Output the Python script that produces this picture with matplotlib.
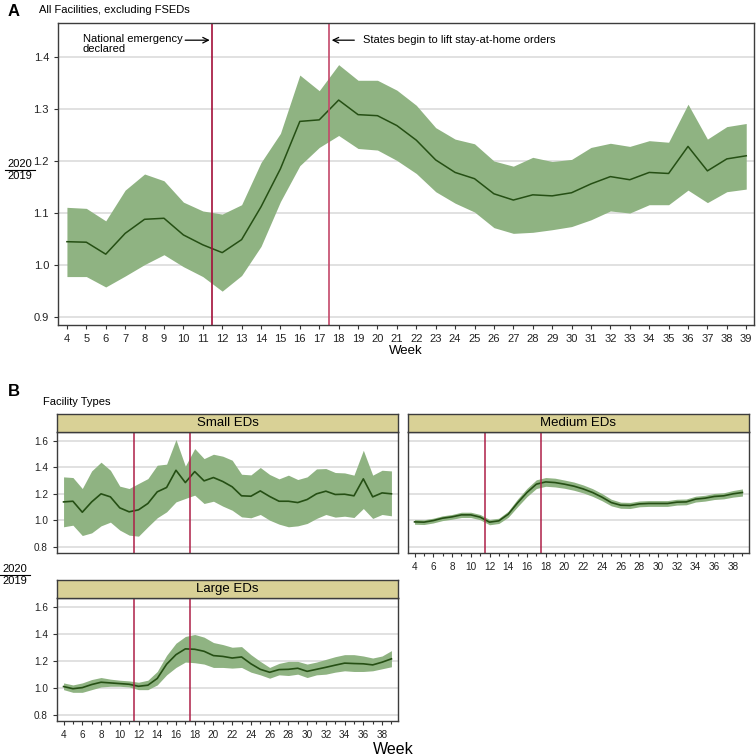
import matplotlib
matplotlib.use('Agg')
import matplotlib.pyplot as plt
from matplotlib.lines import Line2D
import numpy as np

plt.rcParams['font.family'] = ['Liberation Sans', 'DejaVu Sans']

weeks = list(range(4, 40))

# Panel A - all facilities, excluding FSEDs
all_mean = [1.045, 1.044, 1.021, 1.061, 1.088, 1.090, 1.058, 1.039, 1.024, 1.049,
            1.112, 1.185, 1.276, 1.279, 1.317, 1.289, 1.287, 1.268, 1.240, 1.202,
            1.178, 1.166, 1.137, 1.125, 1.135, 1.133, 1.139, 1.156, 1.170, 1.164,
            1.178, 1.176, 1.228, 1.181, 1.204, 1.210]
all_upper = [1.111, 1.109, 1.085, 1.144, 1.175, 1.162, 1.121, 1.104, 1.098, 1.116,
             1.197, 1.253, 1.365, 1.335, 1.385, 1.355, 1.355, 1.336, 1.307, 1.264,
             1.242, 1.233, 1.200, 1.190, 1.207, 1.199, 1.203, 1.226, 1.234, 1.228,
             1.239, 1.236, 1.309, 1.242, 1.266, 1.272]
all_lower = [0.978, 0.978, 0.958, 0.979, 1.001, 1.020, 0.997, 0.978, 0.950, 0.980,
             1.036, 1.122, 1.191, 1.226, 1.249, 1.224, 1.221, 1.201, 1.176, 1.141,
             1.119, 1.102, 1.072, 1.061, 1.063, 1.068, 1.074, 1.087, 1.104, 1.100,
             1.116, 1.116, 1.144, 1.120, 1.141, 1.146]

# Panel B - facility types
small_mean = [1.138, 1.143, 1.060, 1.138, 1.199, 1.176, 1.093, 1.063, 1.078, 1.126,
              1.214, 1.247, 1.377, 1.284, 1.367, 1.297, 1.322, 1.292, 1.252, 1.184,
              1.181, 1.221, 1.179, 1.143, 1.143, 1.133, 1.156, 1.199, 1.219, 1.194,
              1.196, 1.184, 1.312, 1.176, 1.206, 1.199]
small_upper = [1.327, 1.322, 1.239, 1.372, 1.438, 1.377, 1.257, 1.239, 1.277, 1.314,
               1.415, 1.423, 1.609, 1.408, 1.541, 1.465, 1.498, 1.483, 1.453, 1.347,
               1.342, 1.398, 1.345, 1.312, 1.340, 1.307, 1.327, 1.387, 1.390, 1.360,
               1.357, 1.340, 1.528, 1.340, 1.377, 1.372]
small_lower = [0.950, 0.962, 0.884, 0.904, 0.957, 0.985, 0.925, 0.887, 0.879, 0.950,
               1.018, 1.063, 1.138, 1.164, 1.189, 1.126, 1.143, 1.106, 1.075, 1.025,
               1.018, 1.043, 1.000, 0.970, 0.950, 0.957, 0.975, 1.013, 1.043, 1.023,
               1.030, 1.020, 1.088, 1.013, 1.043, 1.033]

medium_mean = [0.987, 0.985, 0.997, 1.015, 1.025, 1.040, 1.040, 1.023, 0.985, 0.995,
               1.045, 1.131, 1.209, 1.272, 1.289, 1.284, 1.272, 1.257, 1.236, 1.209,
               1.174, 1.133, 1.113, 1.111, 1.123, 1.126, 1.126, 1.126, 1.136, 1.138,
               1.159, 1.166, 1.179, 1.184, 1.199, 1.209]
medium_upper = [1.005, 1.003, 1.015, 1.033, 1.043, 1.060, 1.060, 1.043, 1.005, 1.015,
                1.068, 1.160, 1.240, 1.305, 1.322, 1.317, 1.303, 1.288, 1.266, 1.238,
                1.201, 1.158, 1.136, 1.134, 1.145, 1.148, 1.148, 1.148, 1.158, 1.160,
                1.181, 1.188, 1.202, 1.207, 1.224, 1.236]
medium_lower = [0.969, 0.967, 0.979, 0.997, 1.007, 1.020, 1.020, 1.003, 0.965, 0.975,
                1.022, 1.102, 1.178, 1.239, 1.256, 1.251, 1.241, 1.226, 1.206, 1.180,
                1.147, 1.108, 1.090, 1.088, 1.101, 1.104, 1.104, 1.104, 1.114, 1.116,
                1.137, 1.144, 1.156, 1.161, 1.174, 1.182]

large_mean = [1.008, 0.992, 1.000, 1.023, 1.040, 1.035, 1.030, 1.025, 1.010, 1.018,
              1.068, 1.174, 1.245, 1.288, 1.285, 1.270, 1.238, 1.232, 1.220, 1.228,
              1.177, 1.136, 1.114, 1.134, 1.136, 1.144, 1.121, 1.136, 1.151, 1.167,
              1.182, 1.179, 1.177, 1.169, 1.189, 1.214]
large_upper = [1.035, 1.020, 1.035, 1.060, 1.075, 1.063, 1.055, 1.050, 1.040, 1.055,
               1.120, 1.240, 1.330, 1.380, 1.395, 1.375, 1.335, 1.320, 1.300, 1.305,
               1.245, 1.195, 1.150, 1.180, 1.195, 1.195, 1.175, 1.190, 1.210, 1.230,
               1.245, 1.245, 1.235, 1.220, 1.235, 1.275]
large_lower = [0.985, 0.965, 0.965, 0.985, 1.005, 1.010, 1.010, 1.005, 0.985, 0.985,
               1.020, 1.095, 1.150, 1.190, 1.185, 1.175, 1.150, 1.150, 1.145, 1.150,
               1.115, 1.095, 1.070, 1.095, 1.090, 1.100, 1.075, 1.095, 1.100, 1.115,
               1.125, 1.120, 1.120, 1.125, 1.140, 1.155]

events = [11.5, 17.5]

fill_col = '#8fb382'
line_col = '#254f14'
grid_col = '#dedede'
spine_col = '#3c3c3c'
strip_col = '#d9d196'

fig = plt.figure(figsize=(7.56, 7.56), dpi=100)
W = H = 756.0


def box(x0, y0, x1, y1):
    # pixel box (top-left origin) -> figure fraction rect
    return [x0 / W, 1 - y1 / H, (x1 - x0) / W, (y1 - y0) / H]


def style_axes(ax):
    for s in ax.spines.values():
        s.set_color(spine_col)
        s.set_linewidth(1.0)
    ax.grid(axis='y', color=grid_col, linewidth=1.3)
    ax.set_axisbelow(True)
    ax.tick_params(colors='#333333', labelcolor='#222222', length=3, width=0.8)


def frac_label(x, y, size):
    fig.text(x / W, 1 - (y - 1) / H, '2020', ha='center', va='bottom', fontsize=size)
    fig.add_artist(Line2D([(x - 15) / W, (x + 15) / W], [1 - y / H, 1 - y / H],
                          color='black', linewidth=0.8))
    fig.text(x / W, 1 - (y + 1) / H, '2019', ha='center', va='top', fontsize=size)


# ---- Panel A ----
axA = fig.add_axes(box(58, 23, 754, 325))
axA.fill_between(weeks, all_lower, all_upper, color=fill_col, linewidth=0)
axA.plot(weeks, all_mean, color=line_col, linewidth=1.1)
axA.axvline(events[0], color='#a30f3a', linewidth=1.2)
axA.axvline(events[1], color='#c4486a', linewidth=1.2)
axA.set_xlim(3.54, 39.4)
axA.set_ylim(0.885, 1.465)
axA.set_yticks([0.9, 1.0, 1.1, 1.2, 1.3, 1.4])
axA.set_yticklabels(['0.9', '1.0', '1.1', '1.2', '1.3', '1.4'])
axA.set_xticks(weeks)
axA.tick_params(labelsize=8)
style_axes(axA)
axA.set_xlabel('Week', fontsize=9.5, labelpad=1)

axA.annotate('', xy=(events[0], 1.432), xytext=(9.95, 1.432),
             arrowprops=dict(arrowstyle='->', color='black', lw=0.9))
axA.text(4.82, 1.425, 'National emergency\ndeclared', ha='left', va='center',
         fontsize=8, linespacing=1.05)
axA.annotate('', xy=(events[1], 1.432), xytext=(18.95, 1.432),
             arrowprops=dict(arrowstyle='->', color='black', lw=0.9))
axA.text(19.25, 1.432, 'States begin to lift stay-at-home orders', ha='left',
         va='center', fontsize=8)

fig.text(8 / W, 1 - 12 / H, 'A', fontsize=12, fontweight='bold', va='center')
fig.text(39 / W, 1 - 10 / H, 'All Facilities, excluding FSEDs', fontsize=8, va='center')
frac_label(20, 170, 8)

# ---- Panel B ----
fig.text(8 / W, 1 - 391 / H, 'B', fontsize=12, fontweight='bold', va='center')
fig.text(43 / W, 1 - 402 / H, 'Facility Types', fontsize=8, va='center')
frac_label(15, 575, 8)

panels = [
    ('Small EDs', (57, 432, 398, 553), small_mean, small_upper, small_lower),
    ('Medium EDs', (408, 432, 749, 553), medium_mean, medium_upper, medium_lower),
    ('Large EDs', (57, 598, 398, 721), large_mean, large_upper, large_lower),
]

for name, (x0, y0, x1, y1), m, up, lo in panels:
    ax = fig.add_axes(box(x0, y0, x1, y1))
    ax.fill_between(weeks, lo, up, color=fill_col, linewidth=0)
    ax.plot(weeks, m, color=line_col, linewidth=1.2)
    for e in events:
        ax.axvline(e, color='#ad1f48', linewidth=1.1)
    ax.set_xlim(3.3, 39.7)
    ax.set_ylim(0.752, 1.666)
    ax.set_yticks([0.8, 1.0, 1.2, 1.4, 1.6])
    ax.set_yticklabels(['0.8', '1.0', '1.2', '1.4', '1.6'])
    ax.set_xticks(list(range(4, 40, 2)))
    ax.set_xticks(weeks, minor=True)
    style_axes(ax)
    ax.tick_params(labelsize=7.2)
    ax.tick_params(which='minor', length=2, width=0.8, colors='#333333')
    if name == 'Small EDs':
        ax.tick_params(axis='x', which='both', bottom=False, labelbottom=False)
    if name == 'Medium EDs':
        ax.tick_params(axis='y', left=False, labelleft=False)

    strip = fig.add_axes(box(x0, y0 - 18, x1, y0))
    strip.set_facecolor(strip_col)
    strip.set_xticks([])
    strip.set_yticks([])
    for s in strip.spines.values():
        s.set_color(spine_col)
        s.set_linewidth(1.0)
    strip.text(0.5, 0.5, name, ha='center', va='center', fontsize=9.5,
               transform=strip.transAxes)

fig.text(393 / W, 1 - 749 / H, 'Week', fontsize=11.5, ha='center', va='center')

fig.savefig('out.png', dpi=100)
